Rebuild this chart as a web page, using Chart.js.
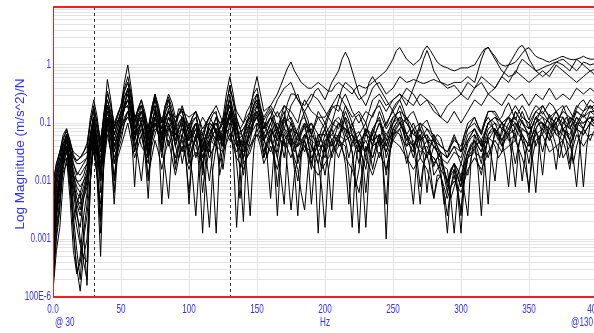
<!DOCTYPE html>
<html>
<head>
<meta charset="utf-8">
<script src="https://cdn.jsdelivr.net/npm/chart.js@4.4.1/dist/chart.umd.min.js"></script>
<style>
  html, body { margin: 0; padding: 0; background: #fff; overflow: hidden; }
  #wrap { position: relative; width: 600px; height: 333px; }
</style>
</head>
<body>
<div id="wrap"><canvas id="frf"></canvas></div>
<script>
// ── FRF overlay: log magnitude vs frequency ─────────────────────
// values are log10 of magnitude in (m/s^2)/N, every 2.5 Hz

const freqs = [
  0, 2.5, 5, 7.5, 10, 12.5, 15, 17.5, 20, 22.5, 25, 27.5, 30, 32.5, 35, 37.5, 40, 42.5, 45, 47.5,
  50, 52.5, 55, 57.5, 60, 62.5, 65, 67.5, 70, 72.5, 75, 77.5, 80, 82.5, 85, 87.5, 90, 92.5, 95, 97.5,
  100, 102.5, 105, 107.5, 110, 112.5, 115, 117.5, 120, 122.5, 125, 127.5, 130, 132.5, 135, 137.5, 140, 142.5, 145, 147.5,
  150, 152.5, 155, 157.5, 160, 162.5, 165, 167.5, 170, 172.5, 175, 177.5, 180, 182.5, 185, 187.5, 190, 192.5, 195, 197.5,
  200, 202.5, 205, 207.5, 210, 212.5, 215, 217.5, 220, 222.5, 225, 227.5, 230, 232.5, 235, 237.5, 240, 242.5, 245, 247.5,
  250, 252.5, 255, 257.5, 260, 262.5, 265, 267.5, 270, 272.5, 275, 277.5, 280, 282.5, 285, 287.5, 290, 292.5, 295, 297.5,
  300, 302.5, 305, 307.5, 310, 312.5, 315, 317.5, 320, 322.5, 325, 327.5, 330, 332.5, 335, 337.5, 340, 342.5, 345, 347.5,
  350, 352.5, 355, 357.5, 360, 362.5, 365, 367.5, 370, 372.5, 375, 377.5, 380, 382.5, 385, 387.5, 390, 392.5, 395, 397.5,
  400
];

// upper traces (rise above the bundle past ~170 Hz)
const logMag01 = [
  -2.9,-2.2,-1.9,-1.4,-1.2,-1.4,-1.7,-1.9,-1.8,-1.7,-1.6,-1.2,-0.9,-1.1,-1.4,-0.9,-0.6,-0.8,-1.2,-1.0,
  -0.8,-0.45,-0.3,-0.6,-1.0,-0.75,-0.7,-0.9,-1.3,-0.8,-0.6,-0.8,-1.1,-0.8,-0.7,-0.85,-1.0,-0.75,-0.8,-1.0,
  -1.2,-0.95,-0.9,-1.1,-1.3,-1.05,-1.0,-0.85,-0.8,-1.3,-1.1,-0.75,-0.6,-0.8,-1.0,-1.4,-1.2,-0.95,-0.9,-0.7,
  -0.6,-0.75,-0.9,-0.8,-0.7,-0.6,-0.5,-0.35,-0.2,-0.05,0.05,-0.1,-0.2,-0.3,-0.35,-0.4,-0.4,-0.35,-0.3,-0.35,
  -0.4,-0.45,-0.45,-0.35,-0.3,-0.35,-0.4,-0.45,-0.5,-0.4,-0.35,-0.38,-0.4,-0.35,-0.3,-0.25,-0.2,-0.15,-0.1,0.0,
  0.1,0.25,0.3,0.2,0.1,0.05,0.0,0.05,0.1,0.25,0.33,0.25,0.15,0.05,0.0,-0.03,-0.05,-0.08,-0.1,-0.08,
  -0.05,-0.05,-0.05,-0.02,0.0,0.1,0.2,0.28,0.3,0.22,0.15,0.05,0.0,-0.02,0.0,0.02,0.05,0.12,0.2,0.27,
  0.3,0.22,0.15,0.12,0.1,0.07,0.05,0.08,0.1,0.13,0.15,0.12,0.1,0.09,0.1,0.12,0.15,0.12,0.1,0.1,
  0.1
];
const logMag02 = [
  -3.3,-2.6,-2.2,-1.6,-1.4,-1.6,-1.9,-2.1,-2.2,-2.0,-1.9,-1.4,-1.0,-1.3,-1.7,-1.2,-0.9,-1.1,-1.4,-1.2,
  -1.0,-0.75,-0.6,-0.85,-1.2,-1.0,-0.9,-1.1,-1.5,-1.1,-0.9,-1.0,-1.2,-1.05,-1.0,-1.2,-1.3,-1.0,-0.9,-1.1,
  -1.3,-1.1,-1.0,-1.2,-1.5,-1.3,-1.2,-1.05,-1.0,-1.15,-1.3,-0.9,-0.7,-0.9,-1.1,-1.3,-1.4,-1.15,-1.0,-0.85,
  -0.8,-0.95,-1.1,-0.9,-0.8,-1.0,-1.2,-1.0,-0.9,-0.65,-0.5,-0.5,-0.6,-0.7,-0.8,-0.7,-0.6,-0.45,-0.4,-0.5,
  -0.6,-0.45,-0.3,-0.2,-0.1,0.1,0.22,0.1,-0.1,-0.3,-0.5,-0.6,-0.7,-0.55,-0.4,-0.33,-0.3,-0.4,-0.5,-0.45,
  -0.4,-0.3,-0.2,-0.25,-0.3,-0.28,-0.25,-0.27,-0.3,-0.32,-0.3,-0.27,-0.25,-0.28,-0.3,-0.32,-0.35,-0.33,-0.3,-0.3,
  -0.3,-0.25,-0.2,-0.25,-0.3,-0.1,0.1,0.25,0.31,0.2,0.1,0.0,-0.1,-0.15,-0.2,-0.18,-0.15,0.0,0.1,0.05,
  0.0,-0.05,-0.1,-0.08,-0.05,-0.02,0.0,0.03,0.05,0.08,0.1,0.05,0.0,-0.05,-0.1,-0.03,0.05,0.03,0.0,0.02,
  0.05
];
const logMag03 = [
  -2.6,-2.0,-1.7,-1.45,-1.3,-1.5,-1.8,-2.0,-2.0,-1.9,-1.7,-1.2,-0.8,-1.1,-1.5,-1.0,-0.7,-0.85,-1.1,-0.95,
  -0.9,-0.65,-0.5,-0.7,-1.0,-0.85,-0.8,-0.95,-1.2,-0.85,-0.7,-0.95,-1.3,-1.0,-0.8,-0.9,-1.1,-1.0,-0.9,-1.0,
  -1.1,-1.2,-1.3,-1.05,-0.9,-1.0,-1.2,-1.35,-1.4,-1.1,-0.9,-0.5,-0.2,-0.5,-0.9,-1.1,-1.3,-1.0,-0.8,-0.6,
  -0.5,-0.75,-1.0,-1.0,-0.9,-0.75,-0.6,-0.5,-0.4,-0.35,-0.3,-0.45,-0.6,-0.65,-0.7,-0.6,-0.5,-0.55,-0.6,-0.7,
  -0.8,-0.9,-1.0,-0.8,-0.6,-0.4,-0.3,-0.35,-0.4,-0.5,-0.6,-0.55,-0.5,-0.3,-0.2,-0.3,-0.4,-0.5,-0.6,-0.7,
  -0.8,-0.7,-0.6,-0.5,-0.4,-0.45,-0.5,-0.6,-0.7,-0.65,-0.6,-0.7,-0.8,-0.85,-0.9,-0.8,-0.7,-0.65,-0.6,-0.55,
  -0.5,-0.4,-0.3,-0.35,-0.4,-0.3,-0.2,-0.25,-0.3,-0.35,-0.4,-0.3,-0.2,-0.1,0.0,0.1,0.2,0.3,0.34,0.25,
  0.1,0.0,-0.1,-0.15,-0.2,-0.15,-0.1,-0.02,0.05,0.03,0.0,-0.05,-0.1,0.0,0.1,0.05,0.0,-0.05,-0.1,-0.08,
  -0.05
];
const logMag04 = [
  -3.0,-2.4,-2.0,-1.7,-1.5,-1.8,-2.1,-2.3,-2.4,-2.2,-2.0,-1.5,-1.2,-1.5,-1.8,-1.3,-0.9,-1.2,-1.5,-1.3,
  -1.1,-0.95,-0.8,-1.0,-1.3,-1.1,-1.0,-1.3,-1.6,-1.2,-1.0,-1.2,-1.4,-1.1,-0.9,-1.1,-1.4,-1.2,-1.1,-1.25,
  -1.4,-1.2,-1.1,-1.3,-1.6,-1.4,-1.3,-1.2,-1.1,-1.25,-1.4,-1.1,-0.9,-1.05,-1.2,-1.35,-1.5,-1.3,-1.1,-1.0,
  -0.9,-1.1,-1.3,-1.15,-1.0,-0.9,-0.8,-0.95,-1.1,-0.9,-0.7,-0.6,-0.5,-0.7,-0.9,-1.05,-1.2,-1.0,-0.8,-0.9,
  -1.0,-0.85,-0.7,-0.6,-0.5,-0.6,-0.7,-0.8,-0.9,-0.85,-0.8,-0.9,-1.0,-0.8,-0.6,-0.55,-0.5,-0.6,-0.7,-0.65,
  -0.6,-0.55,-0.5,-0.6,-0.7,-0.55,-0.4,-0.25,-0.1,0.1,0.25,0.1,-0.1,-0.2,-0.3,-0.35,-0.4,-0.38,-0.35,-0.42,
  -0.5,-0.55,-0.6,-0.5,-0.4,-0.35,-0.3,-0.4,-0.5,-0.45,-0.4,-0.3,-0.2,-0.25,-0.3,-0.2,-0.1,-0.15,-0.2,-0.25,
  -0.3,-0.25,-0.2,-0.15,-0.1,-0.15,-0.2,-0.1,0.0,-0.05,-0.1,-0.15,-0.2,-0.25,-0.3,-0.25,-0.2,-0.15,-0.1,-0.15,
  -0.2
];

// main bundle
const logMag05 = [
  -3.8,-3.0,-2.5,-1.6,-1.2,-1.7,-2.6,-3.2,-3.7,-2.9,-2.4,-1.5,-1.0,-1.4,-2.2,-0.9,-0.25,-0.6,-1.1,-0.85,
  -0.7,-0.3,0.0,-0.4,-0.9,-1.0,-1.2,-1.5,-1.7,-1.1,-0.9,-0.8,-1.0,-0.7,-0.6,-0.9,-1.4,-1.6,-1.2,-1.0,
  -1.1,-0.9,-0.8,-1.2,-1.8,-1.3,-1.0,-1.05,-1.2,-1.9,-1.6,-1.1,-0.9,-0.8,-1.0,-1.5,-1.9,-1.5,-1.3,-1.0,
  -0.9,-1.1,-1.4,-1.6,-1.2,-1.05,-1.0,-1.1,-1.3,-1.2,-1.1,-1.3,-1.7,-1.45,-1.3,-1.1,-1.0,-1.2,-1.5,-1.8,
  -1.4,-1.2,-1.1,-0.95,-0.9,-1.0,-1.2,-1.3,-1.5,-2.1,-1.8,-1.4,-1.2,-1.25,-1.4,-1.15,-1.0,-1.2,-1.6,-1.4,
  -1.2,-1.05,-1.0,-1.1,-1.3,-1.2,-1.1,-1.2,-1.4,-1.5,-1.6,-1.4,-1.3,-1.5,-1.8,-2.4,-2.2,-1.8,-1.7,-1.8,
  -2.0,-1.7,-1.5,-1.35,-1.3,-1.5,-1.7,-1.35,-1.2,-1.1,-1.1,-1.2,-1.4,-1.2,-1.1,-1.05,-1.0,-1.1,-1.2,-1.3,
  -1.4,-1.2,-1.1,-1.0,-1.0,-1.15,-1.3,-1.1,-1.0,-0.9,-0.9,-1.1,-1.3,-1.1,-1.0,-1.05,-1.1,-0.95,-0.9,-0.95,
  -1.0
];
const logMag06 = [
  -2.2,-1.8,-1.6,-1.3,-1.1,-1.3,-1.6,-1.7,-1.7,-1.65,-1.6,-1.2,-0.9,-1.2,-1.5,-1.0,-0.7,-1.0,-1.5,-1.2,
  -1.0,-0.7,-0.5,-0.8,-1.2,-0.95,-0.8,-0.95,-1.2,-0.75,-0.5,-0.8,-1.4,-1.2,-1.1,-1.0,-1.0,-0.85,-0.8,-1.1,
  -1.6,-1.4,-1.3,-1.2,-1.2,-1.35,-1.5,-1.1,-0.9,-1.0,-1.1,-0.85,-0.7,-1.0,-1.4,-1.25,-1.2,-1.1,-1.0,-0.8,
  -0.7,-0.85,-1.0,-1.15,-1.3,-1.45,-1.5,-1.1,-0.9,-0.95,-1.0,-1.15,-1.3,-1.1,-1.0,-1.3,-1.6,-1.5,-1.4,-1.2,
  -1.1,-1.3,-1.6,-1.4,-1.3,-1.1,-0.9,-1.0,-1.1,-1.25,-1.4,-1.45,-1.5,-1.3,-1.2,-1.0,-0.9,-1.1,-1.3,-1.1,
  -0.9,-0.85,-0.8,-1.0,-1.2,-1.4,-1.5,-1.2,-1.0,-1.15,-1.3,-1.35,-1.4,-1.5,-1.6,-1.65,-1.7,-1.6,-1.5,-1.55,
  -1.6,-1.4,-1.2,-1.15,-1.1,-1.25,-1.4,-1.2,-1.0,-0.95,-0.9,-1.0,-1.1,-1.15,-1.2,-1.0,-0.8,-0.9,-1.0,-1.1,
  -1.2,-1.05,-0.9,-0.85,-0.8,-0.9,-1.0,-1.05,-1.1,-1.0,-0.9,-1.0,-1.1,-0.95,-0.8,-0.85,-0.9,-0.8,-0.7,-0.75,
  -0.8
];
const logMag07 = [
  -3.5,-2.5,-2.0,-1.6,-1.4,-2.0,-2.9,-3.5,-3.9,-3.3,-3.0,-2.0,-1.3,-2.0,-3.3,-1.6,-1.0,-1.5,-2.4,-1.5,
  -1.1,-0.9,-0.8,-1.1,-1.5,-1.2,-1.0,-1.5,-2.3,-1.3,-0.9,-1.2,-1.6,-1.2,-1.0,-1.3,-1.7,-1.4,-1.3,-1.6,
  -2.2,-1.5,-1.2,-1.8,-2.9,-1.8,-1.4,-1.2,-1.1,-1.4,-1.8,-1.3,-1.0,-1.5,-2.8,-1.8,-1.4,-1.3,-1.2,-1.1,
  -1.0,-1.2,-1.6,-1.3,-1.1,-1.6,-2.6,-1.6,-1.2,-1.3,-1.4,-1.6,-1.8,-2.2,-2.5,-1.8,-1.4,-1.5,-1.7,-2.1,
  -2.8,-1.8,-1.5,-1.3,-1.2,-1.1,-1.1,-1.3,-1.5,-2.0,-2.9,-1.8,-1.4,-1.5,-1.6,-1.4,-1.2,-1.7,-3.0,-1.6,
  -1.1,-1.0,-1.0,-1.15,-1.3,-1.35,-1.4,-1.8,-2.4,-1.7,-1.5,-1.55,-1.6,-1.7,-1.9,-2.3,-2.9,-2.1,-1.8,-2.2,
  -2.9,-2.0,-1.6,-1.4,-1.3,-1.8,-2.6,-1.6,-1.2,-1.15,-1.1,-1.2,-1.3,-1.6,-2.1,-1.4,-1.0,-1.1,-1.3,-1.6,
  -2.2,-1.4,-1.1,-1.0,-1.0,-1.1,-1.2,-1.4,-1.8,-1.3,-1.1,-1.2,-1.3,-1.6,-2.1,-1.4,-1.1,-0.95,-0.9,-0.95,
  -1.0
];
const logMag08 = [
  -2.5,-1.8,-1.5,-1.2,-1.1,-1.4,-1.9,-2.2,-2.3,-2.1,-1.9,-1.5,-1.2,-1.5,-1.7,-1.2,-0.9,-1.0,-1.2,-1.0,
  -0.8,-0.75,-0.7,-0.9,-1.3,-0.9,-0.7,-1.0,-1.5,-1.2,-1.0,-1.05,-1.1,-0.9,-0.8,-1.0,-1.3,-1.1,-0.9,-1.1,
  -1.3,-1.1,-1.0,-1.2,-1.4,-1.2,-1.1,-1.2,-1.3,-1.25,-1.2,-1.0,-0.9,-1.0,-1.1,-1.3,-1.6,-1.4,-1.2,-0.9,
  -0.7,-0.9,-1.1,-1.0,-0.9,-1.1,-1.3,-1.2,-1.1,-1.2,-1.3,-1.35,-1.4,-1.3,-1.2,-1.15,-1.1,-1.3,-1.5,-1.4,
  -1.3,-1.25,-1.2,-1.1,-1.0,-1.05,-1.1,-1.15,-1.2,-1.35,-1.5,-1.3,-1.1,-1.2,-1.3,-1.25,-1.2,-1.35,-1.5,-1.3,
  -1.1,-1.0,-0.9,-0.95,-1.0,-1.1,-1.2,-1.25,-1.3,-1.25,-1.2,-1.3,-1.4,-1.45,-1.5,-1.55,-1.6,-1.5,-1.4,-1.45,
  -1.5,-1.4,-1.3,-1.2,-1.1,-1.2,-1.3,-1.15,-1.0,-0.95,-0.9,-0.95,-1.0,-1.05,-1.1,-0.95,-0.8,-0.9,-1.0,-1.05,
  -1.1,-0.95,-0.8,-0.85,-0.9,-0.95,-1.0,-0.9,-0.8,-0.95,-1.1,-1.05,-1.0,-0.9,-0.8,-0.85,-0.9,-0.85,-0.8,-0.8,
  -0.8
];
const logMag09 = [
  -3.9,-3.2,-2.8,-2.0,-1.6,-2.3,-3.2,-3.6,-3.4,-3.0,-2.6,-1.9,-1.4,-1.9,-2.6,-1.6,-1.1,-1.3,-1.6,-1.4,
  -1.2,-1.0,-0.9,-0.95,-1.0,-1.2,-1.4,-1.5,-1.6,-1.4,-1.2,-1.0,-0.9,-1.1,-1.4,-1.2,-1.1,-1.3,-1.5,-1.2,
  -1.0,-1.3,-1.6,-1.4,-1.3,-1.6,-2.0,-1.5,-1.2,-1.1,-1.0,-1.15,-1.3,-1.1,-1.0,-1.3,-1.7,-1.6,-1.5,-1.3,
  -1.2,-1.25,-1.3,-1.4,-1.5,-1.3,-1.1,-1.3,-1.6,-1.2,-1.0,-1.2,-1.4,-1.35,-1.3,-1.5,-1.8,-1.4,-1.2,-1.3,
  -1.5,-1.4,-1.3,-1.45,-1.6,-1.4,-1.2,-1.1,-1.0,-1.2,-1.4,-1.6,-1.8,-1.4,-1.1,-1.2,-1.4,-1.3,-1.2,-1.25,
  -1.3,-1.2,-1.1,-1.0,-0.9,-1.1,-1.4,-1.25,-1.1,-1.3,-1.6,-1.4,-1.2,-1.4,-1.6,-1.8,-2.0,-2.3,-2.1,-1.9,
  -1.7,-1.8,-1.9,-1.6,-1.4,-1.35,-1.3,-1.45,-1.6,-1.4,-1.2,-1.1,-1.0,-1.15,-1.3,-1.25,-1.2,-1.0,-0.9,-0.95,
  -1.0,-1.2,-1.4,-1.25,-1.1,-1.0,-0.9,-1.05,-1.2,-1.25,-1.3,-1.1,-0.9,-1.0,-1.1,-1.15,-1.2,-1.1,-1.0,-1.05,
  -1.1
];
const logMag10 = [
  -3.1,-2.4,-1.9,-1.5,-1.3,-1.7,-2.2,-2.6,-2.8,-2.3,-2.0,-1.3,-0.9,-1.4,-2.0,-1.2,-0.8,-1.0,-1.4,-1.2,
  -1.1,-0.7,-0.4,-0.7,-1.1,-0.95,-0.9,-1.0,-1.1,-0.85,-0.7,-1.0,-1.5,-1.1,-0.9,-1.0,-1.1,-0.85,-0.7,-0.9,
  -1.2,-1.0,-0.9,-1.1,-1.4,-1.5,-1.3,-1.05,-0.9,-1.1,-1.4,-0.9,-0.5,-0.8,-1.1,-1.2,-1.1,-1.0,-0.9,-0.7,
  -0.6,-0.9,-1.2,-1.05,-0.9,-1.0,-1.2,-0.95,-0.8,-1.1,-1.4,-1.2,-1.1,-0.95,-0.9,-1.1,-1.4,-1.5,-1.3,-1.1,
  -1.0,-1.15,-1.3,-1.5,-1.4,-1.0,-0.8,-0.95,-1.2,-1.3,-1.2,-1.1,-1.0,-1.2,-1.4,-1.35,-1.3,-1.1,-1.0,-0.9,
  -0.8,-0.9,-1.0,-1.1,-1.2,-1.1,-1.0,-1.15,-1.3,-1.2,-1.1,-1.15,-1.2,-1.3,-1.4,-1.45,-1.5,-1.4,-1.3,-1.35,
  -1.4,-1.2,-1.1,-1.05,-1.0,-1.1,-1.2,-1.0,-0.9,-1.0,-1.2,-1.1,-1.0,-0.95,-0.9,-1.0,-1.1,-0.95,-0.8,-0.95,
  -1.1,-1.05,-1.0,-0.85,-0.7,-0.8,-0.9,-0.95,-1.0,-0.9,-0.8,-0.85,-0.9,-0.95,-1.0,-0.9,-0.8,-0.75,-0.7,-0.8,
  -0.9
];
const logMag11 = [
  -2.9,-2.1,-1.7,-1.6,-1.5,-1.7,-2.0,-2.5,-3.0,-3.4,-3.7,-2.0,-1.2,-1.8,-2.9,-1.4,-0.9,-1.3,-2.0,-1.3,
  -0.9,-0.75,-0.7,-1.1,-2.1,-1.2,-0.9,-1.0,-1.3,-1.0,-0.8,-1.2,-2.4,-1.4,-1.1,-1.15,-1.2,-1.1,-1.0,-1.2,
  -1.5,-1.9,-2.6,-1.7,-1.4,-1.2,-1.1,-1.2,-1.3,-1.2,-1.1,-1.05,-1.0,-1.1,-1.3,-1.8,-2.7,-1.4,-1.0,-0.95,
  -0.9,-1.0,-1.2,-1.25,-1.3,-1.4,-1.6,-1.9,-2.4,-1.4,-1.1,-1.15,-1.2,-1.35,-1.5,-1.3,-1.2,-1.7,-2.9,-1.7,
  -1.3,-1.25,-1.2,-1.25,-1.3,-1.35,-1.4,-1.9,-2.8,-1.7,-1.3,-1.4,-1.5,-1.3,-1.2,-1.4,-1.6,-1.4,-1.3,-1.25,
  -1.2,-1.15,-1.1,-1.3,-1.5,-1.9,-2.4,-1.6,-1.3,-1.25,-1.2,-1.5,-1.9,-1.8,-1.7,-1.75,-1.8,-2.3,-2.9,-2.2,
  -1.9,-2.2,-2.6,-1.6,-1.2,-1.3,-1.4,-1.35,-1.3,-1.6,-2.0,-1.4,-1.1,-1.15,-1.2,-1.6,-2.1,-1.4,-1.1,-1.15,
  -1.2,-1.6,-2.2,-1.4,-1.0,-1.05,-1.1,-1.05,-1.0,-1.3,-1.6,-1.5,-1.4,-1.2,-1.0,-1.4,-2.1,-1.4,-1.0,-0.95,
  -0.9
];
const logMag12 = [
  -2.4,-1.9,-1.6,-1.35,-1.2,-1.45,-1.7,-1.85,-1.9,-1.8,-1.7,-1.3,-1.0,-1.3,-1.6,-1.1,-0.7,-0.95,-1.3,-1.1,
  -0.9,-0.7,-0.6,-0.8,-1.0,-0.8,-0.6,-0.9,-1.4,-1.1,-0.9,-1.05,-1.2,-0.85,-0.6,-0.85,-1.2,-1.15,-1.1,-1.2,
  -1.3,-1.15,-1.0,-1.25,-1.5,-1.2,-1.0,-1.05,-1.1,-1.15,-1.2,-1.0,-0.8,-1.0,-1.3,-1.35,-1.4,-1.2,-1.0,-0.9,
  -0.8,-0.9,-1.0,-1.05,-1.1,-1.2,-1.3,-1.1,-0.9,-1.1,-1.3,-1.35,-1.4,-1.2,-1.0,-1.1,-1.2,-1.3,-1.4,-1.25,
  -1.1,-1.25,-1.4,-1.3,-1.2,-1.05,-0.9,-1.15,-1.4,-1.35,-1.3,-1.25,-1.2,-1.25,-1.3,-1.15,-1.0,-1.1,-1.2,-1.1,
  -1.0,-0.85,-0.7,-0.85,-1.0,-1.1,-1.2,-1.15,-1.1,-1.2,-1.3,-1.3,-1.3,-1.4,-1.5,-1.55,-1.6,-1.5,-1.4,-1.55,
  -1.7,-1.5,-1.3,-1.2,-1.1,-1.25,-1.4,-1.2,-1.0,-0.95,-1.0,-1.05,-1.1,-1.0,-0.9,-0.95,-1.0,-1.05,-1.1,-1.15,
  -1.2,-1.05,-0.9,-0.95,-1.0,-1.05,-1.1,-1.0,-0.9,-0.95,-1.0,-1.05,-1.1,-1.0,-0.9,-0.95,-1.0,-0.95,-0.9,-0.9,
  -0.9
];
const logMag13 = [
  -3.6,-2.8,-2.3,-1.7,-1.3,-1.8,-2.4,-2.8,-3.1,-3.3,-3.4,-1.9,-1.1,-1.4,-1.8,-1.2,-0.8,-1.1,-1.7,-1.5,
  -1.3,-1.0,-0.8,-1.0,-1.4,-1.25,-1.1,-1.3,-1.5,-1.3,-1.1,-1.15,-1.2,-1.1,-1.2,-1.4,-1.6,-1.3,-1.0,-1.3,
  -1.7,-1.4,-1.2,-1.1,-1.2,-1.4,-1.6,-1.45,-1.3,-1.1,-1.0,-1.1,-1.2,-1.35,-1.5,-1.4,-1.3,-1.35,-1.4,-1.25,
  -1.1,-1.3,-1.5,-1.35,-1.2,-1.15,-1.1,-1.2,-1.3,-1.45,-1.6,-1.4,-1.2,-1.3,-1.4,-1.45,-1.5,-1.4,-1.3,-1.45,
  -1.6,-1.3,-1.1,-1.25,-1.4,-1.35,-1.3,-1.25,-1.2,-1.45,-1.7,-1.3,-1.1,-1.4,-1.8,-1.5,-1.3,-1.4,-1.5,-1.3,
  -1.1,-1.15,-1.2,-1.3,-1.4,-1.35,-1.3,-1.4,-1.5,-1.45,-1.4,-1.55,-1.7,-1.6,-1.5,-1.8,-2.1,-1.9,-1.8,-1.95,
  -2.1,-1.8,-1.6,-1.55,-1.5,-1.55,-1.6,-1.45,-1.3,-1.2,-1.1,-1.25,-1.4,-1.3,-1.2,-1.15,-1.1,-1.2,-1.3,-1.4,
  -1.5,-1.35,-1.2,-1.15,-1.1,-1.2,-1.3,-1.2,-1.1,-1.15,-1.2,-1.3,-1.4,-1.25,-1.1,-1.15,-1.2,-1.1,-1.0,-1.05,
  -1.1
];
const logMag14 = [
  -2.0,-1.7,-1.5,-1.35,-1.3,-1.45,-1.6,-1.65,-1.6,-1.55,-1.5,-1.0,-0.7,-1.0,-1.3,-0.9,-0.6,-0.85,-1.2,-1.0,
  -0.8,-0.55,-0.4,-0.7,-1.1,-0.9,-0.8,-0.95,-1.2,-0.85,-0.6,-0.85,-1.2,-0.95,-0.8,-0.85,-0.9,-0.85,-0.9,-1.0,
  -1.1,-1.15,-1.2,-1.25,-1.3,-1.05,-0.9,-1.0,-1.2,-1.1,-1.0,-0.85,-0.7,-0.9,-1.2,-1.15,-1.1,-1.0,-0.9,-0.7,
  -0.5,-0.8,-1.1,-1.0,-0.9,-1.0,-1.1,-1.05,-1.0,-0.95,-0.9,-1.05,-1.2,-1.15,-1.1,-1.05,-1.0,-1.1,-1.2,-1.2,
  -1.2,-1.1,-1.0,-1.05,-1.1,-0.9,-0.7,-0.85,-1.0,-1.2,-1.4,-1.25,-1.1,-1.15,-1.2,-1.0,-0.8,-0.95,-1.1,-1.0,
  -0.9,-0.85,-0.8,-0.85,-0.9,-1.0,-1.1,-1.05,-1.0,-1.05,-1.1,-1.2,-1.3,-1.35,-1.4,-1.45,-1.5,-1.35,-1.2,-1.35,
  -1.5,-1.3,-1.1,-1.0,-0.9,-1.05,-1.2,-1.0,-0.8,-0.8,-0.8,-0.9,-1.0,-0.95,-0.9,-0.8,-0.7,-0.8,-0.9,-0.95,
  -1.0,-0.9,-0.8,-0.75,-0.7,-0.8,-0.9,-0.85,-0.8,-0.75,-0.7,-0.85,-1.0,-0.85,-0.7,-0.75,-0.8,-0.7,-0.6,-0.65,
  -0.7
];
const logMag15 = [
  -3.3,-2.6,-2.1,-1.85,-1.7,-1.9,-2.2,-2.4,-2.6,-2.3,-2.1,-1.7,-1.5,-1.9,-2.4,-1.7,-1.2,-1.5,-1.9,-1.6,
  -1.4,-1.2,-1.0,-1.3,-1.6,-1.4,-1.2,-1.5,-1.9,-1.6,-1.3,-1.5,-1.8,-1.5,-1.3,-1.6,-1.9,-1.6,-1.4,-1.6,
  -1.8,-1.6,-1.5,-1.6,-1.7,-2.1,-2.8,-1.8,-1.4,-1.45,-1.5,-1.35,-1.2,-1.4,-1.6,-1.7,-1.8,-1.6,-1.4,-1.3,
  -1.2,-1.4,-1.7,-1.55,-1.4,-1.6,-1.8,-1.5,-1.3,-1.8,-2.5,-1.9,-1.6,-1.5,-1.4,-1.55,-1.7,-1.8,-1.9,-1.8,
  -1.7,-1.6,-1.5,-1.4,-1.3,-1.45,-1.6,-1.7,-1.8,-2.0,-2.2,-1.8,-1.6,-1.75,-1.9,-1.7,-1.5,-1.65,-1.8,-1.5,
  -1.3,-1.35,-1.4,-1.5,-1.6,-1.7,-1.8,-1.7,-1.6,-1.7,-1.8,-2.0,-2.3,-2.0,-1.9,-2.1,-2.3,-2.1,-2.0,-2.1,
  -2.2,-2.0,-1.8,-1.7,-1.6,-1.7,-1.8,-1.65,-1.5,-1.4,-1.3,-1.4,-1.5,-1.45,-1.4,-1.35,-1.3,-1.45,-1.6,-1.8,
  -2.1,-1.6,-1.3,-1.25,-1.2,-1.35,-1.5,-1.45,-1.4,-1.35,-1.3,-1.5,-1.8,-1.4,-1.2,-1.3,-1.4,-1.3,-1.2,-1.2,
  -1.2
];
const logMag16 = [
  -2.7,-2.1,-1.8,-1.55,-1.4,-1.6,-1.9,-2.0,-2.1,-2.0,-1.8,-1.4,-1.1,-1.5,-1.9,-1.3,-0.9,-1.1,-1.4,-1.2,
  -1.0,-0.75,-0.6,-0.85,-1.2,-1.1,-1.0,-1.2,-1.4,-1.05,-0.8,-1.0,-1.3,-1.1,-0.9,-1.0,-1.2,-1.25,-1.2,-1.35,
  -1.5,-1.25,-1.1,-1.3,-1.6,-1.4,-1.2,-1.1,-1.0,-1.2,-1.4,-1.05,-0.8,-1.0,-1.3,-1.45,-1.6,-1.3,-1.1,-0.95,
  -0.8,-1.0,-1.3,-1.2,-1.1,-1.25,-1.4,-1.2,-1.1,-1.15,-1.2,-1.4,-1.6,-1.35,-1.2,-1.3,-1.4,-1.55,-1.7,-1.4,
  -1.2,-1.3,-1.4,-1.2,-1.0,-1.05,-1.1,-1.2,-1.3,-1.4,-1.5,-1.4,-1.3,-1.45,-1.6,-1.4,-1.2,-1.3,-1.4,-1.2,
  -1.0,-0.95,-0.9,-1.05,-1.2,-1.3,-1.4,-1.3,-1.2,-1.35,-1.5,-1.55,-1.6,-1.7,-1.8,-1.9,-2.0,-1.85,-1.7,-1.8,
  -1.9,-1.7,-1.5,-1.4,-1.3,-1.4,-1.5,-1.3,-1.1,-1.05,-1.0,-1.15,-1.3,-1.15,-1.0,-0.95,-0.9,-1.05,-1.2,-1.3,
  -1.4,-1.2,-1.0,-0.95,-0.9,-1.05,-1.2,-1.05,-0.9,-1.0,-1.1,-1.15,-1.2,-1.05,-0.9,-1.0,-1.1,-0.95,-0.8,-0.85,
  -0.9
];
const logMag17 = [
  -2.3,-1.9,-1.7,-1.4,-1.2,-1.35,-1.5,-1.55,-1.6,-1.5,-1.4,-0.9,-0.6,-0.9,-1.4,-0.8,-0.5,-0.7,-1.0,-0.85,
  -0.7,-0.45,-0.3,-0.55,-0.9,-0.8,-0.7,-0.85,-1.1,-0.75,-0.5,-0.7,-1.0,-0.7,-0.5,-0.65,-0.9,-0.85,-0.8,-0.85,
  -0.9,-0.85,-0.8,-0.95,-1.1,-1.0,-0.9,-0.8,-0.7,-0.85,-1.0,-0.65,-0.4,-0.6,-0.8,-0.9,-1.0,-0.9,-0.8,-0.45,
  -0.2,-0.5,-0.8,-0.75,-0.7,-0.8,-0.9,-0.8,-0.7,-0.75,-0.8,-0.9,-1.0,-0.75,-0.6,-0.7,-0.8,-0.85,-0.9,-0.9,
  -0.9,-0.8,-0.7,-0.75,-0.8,-0.6,-0.5,-0.65,-0.8,-0.9,-1.0,-0.9,-0.8,-0.85,-0.9,-0.75,-0.6,-0.7,-0.8,-0.7,
  -0.6,-0.55,-0.5,-0.55,-0.6,-0.65,-0.7,-0.6,-0.5,-0.55,-0.6,-0.65,-0.7,-0.8,-0.9,-0.95,-1.0,-0.9,-0.8,-0.9,
  -1.0,-0.9,-0.8,-0.7,-0.6,-0.65,-0.7,-0.6,-0.5,-0.55,-0.6,-0.65,-0.7,-0.6,-0.5,-0.55,-0.6,-0.55,-0.5,-0.6,
  -0.7,-0.6,-0.5,-0.55,-0.6,-0.5,-0.4,-0.5,-0.6,-0.55,-0.5,-0.55,-0.6,-0.5,-0.4,-0.45,-0.5,-0.45,-0.4,-0.45,
  -0.5
];
const logMag18 = [
  -3.0,-2.3,-1.9,-1.7,-1.6,-2.1,-2.7,-2.4,-2.2,-2.9,-3.8,-2.0,-1.3,-1.6,-2.0,-1.4,-1.0,-1.5,-2.2,-1.4,
  -1.0,-0.95,-0.9,-1.05,-1.3,-1.6,-2.0,-1.4,-1.2,-1.1,-1.0,-1.2,-1.4,-1.8,-2.3,-1.4,-1.0,-1.3,-1.7,-1.4,
  -1.2,-1.3,-1.4,-1.55,-1.7,-1.4,-1.3,-1.9,-2.9,-1.6,-1.2,-1.15,-1.1,-1.25,-1.4,-1.35,-1.3,-1.8,-2.6,-1.5,
  -1.0,-1.1,-1.2,-1.6,-2.3,-1.5,-1.2,-1.3,-1.4,-1.35,-1.3,-1.8,-2.6,-1.6,-1.2,-1.25,-1.3,-1.35,-1.4,-1.4,
  -1.4,-1.8,-2.5,-1.5,-1.2,-1.25,-1.3,-1.25,-1.2,-1.3,-1.4,-1.9,-2.8,-1.8,-1.4,-1.35,-1.3,-1.7,-2.4,-1.5,
  -1.2,-1.1,-1.0,-1.1,-1.2,-1.4,-1.6,-1.35,-1.2,-1.6,-2.2,-1.6,-1.4,-1.5,-1.6,-1.8,-2.0,-1.8,-1.7,-2.1,
  -2.6,-1.8,-1.5,-1.45,-1.4,-1.35,-1.3,-1.7,-2.4,-1.5,-1.1,-1.2,-1.3,-1.2,-1.1,-1.15,-1.2,-1.5,-2.0,-1.5,
  -1.3,-1.2,-1.1,-1.4,-1.9,-1.3,-1.0,-1.1,-1.2,-1.15,-1.1,-1.3,-1.7,-1.3,-1.0,-1.0,-1.0,-0.95,-0.9,-1.0,
  -1.1
];
const logMag19 = [
  -3.4,-2.6,-2.0,-1.5,-1.25,-1.5,-2.0,-2.3,-2.5,-2.2,-1.9,-1.3,-0.95,-1.3,-1.9,-1.2,-0.7,-0.9,-1.3,-1.1,
  -0.85,-0.55,-0.45,-0.8,-1.3,-1.0,-0.8,-1.1,-1.6,-1.0,-0.75,-0.95,-1.3,-0.95,-0.75,-1.0,-1.4,-1.1,-0.95,-1.2,
  -1.5,-1.2,-1.0,-1.3,-1.9,-1.3,-1.1,-1.0,-1.15,-1.4,-1.2,-0.85,-0.6,-0.9,-1.3,-1.6,-1.3,-1.05,-0.95,-0.75,
  -0.65,-0.9,-1.3,-1.15,-1.0,-1.2,-1.6,-1.25,-0.95,-1.05,-1.25,-1.5,-1.35,-1.15,-1.05,-1.3,-1.7,-1.4,-1.2,-1.3,
  -1.5,-1.2,-1.05,-0.95,-1.0,-1.1,-1.3,-1.6,-1.35,-1.2,-1.15,-1.3,-1.6,-1.3,-1.1,-1.0,-0.95,-1.15,-1.4,-1.2,
  -1.0,-0.9,-0.95,-1.15,-1.4,-1.25,-1.1,-1.3,-1.6,-1.4,-1.3,-1.5,-1.75,-1.6,-1.65,-1.9,-2.2,-1.85,-1.7,-1.9,
  -2.1,-1.6,-1.35,-1.25,-1.2,-1.4,-1.5,-1.2,-1.0,-1.05,-1.15,-1.3,-1.2,-1.0,-0.9,-1.1,-1.3,-1.1,-0.95,-1.1,
  -1.3,-1.05,-0.9,-1.0,-1.2,-1.0,-0.85,-0.95,-1.1,-1.2,-1.0,-0.9,-1.05,-1.25,-1.1,-0.95,-0.85,-0.95,-1.0,-0.9,
  -0.95
];
const logMag20 = [
  -3.7,-2.9,-2.4,-1.8,-1.45,-1.9,-2.8,-3.6,-3.3,-2.6,-2.2,-1.6,-1.15,-1.6,-2.7,-1.5,-0.95,-1.2,-1.7,-1.35,
  -1.0,-0.75,-0.7,-1.0,-1.5,-1.2,-0.95,-1.3,-2.0,-1.3,-1.0,-1.15,-1.5,-1.2,-1.05,-1.3,-1.8,-1.4,-1.2,-1.5,
  -2.4,-1.5,-1.2,-1.5,-2.2,-1.6,-1.3,-1.25,-1.4,-1.7,-1.45,-1.1,-0.85,-1.2,-1.7,-2.3,-1.6,-1.3,-1.2,-1.0,
  -0.85,-1.1,-1.6,-1.4,-1.2,-1.5,-2.1,-1.5,-1.15,-1.25,-1.4,-1.7,-2.0,-1.5,-1.3,-1.6,-2.4,-1.7,-1.5,-1.6,
  -1.9,-1.5,-1.3,-1.2,-1.25,-1.4,-1.7,-2.4,-1.7,-1.45,-1.35,-1.6,-2.2,-1.6,-1.35,-1.25,-1.2,-1.45,-1.9,-1.5,
  -1.25,-1.15,-1.2,-1.4,-1.7,-1.5,-1.35,-1.6,-2.1,-1.7,-1.55,-1.8,-2.3,-1.9,-1.9,-2.2,-2.6,-2.1,-1.9,-2.2,
  -2.5,-1.9,-1.6,-1.5,-1.45,-1.7,-1.9,-1.5,-1.25,-1.3,-1.4,-1.6,-1.5,-1.25,-1.15,-1.4,-1.7,-1.35,-1.2,-1.4,
  -1.7,-1.3,-1.15,-1.25,-1.5,-1.25,-1.1,-1.2,-1.4,-1.6,-1.3,-1.15,-1.3,-1.7,-1.4,-1.2,-1.1,-1.2,-1.3,-1.15,
  -1.2
];
const logMag21 = [
  -2.1,-1.7,-1.5,-1.25,-1.15,-1.3,-1.55,-1.65,-1.6,-1.5,-1.35,-1.0,-0.75,-1.0,-1.3,-0.85,-0.45,-0.7,-1.05,-0.9,
  -0.7,-0.4,-0.2,-0.5,-0.95,-0.75,-0.6,-0.8,-1.1,-0.8,-0.55,-0.75,-1.0,-0.75,-0.55,-0.75,-1.0,-0.85,-0.75,-0.9,
  -1.05,-0.9,-0.8,-0.95,-1.2,-1.0,-0.9,-0.8,-0.85,-1.0,-0.95,-0.7,-0.35,-0.65,-0.95,-1.1,-1.0,-0.8,-0.7,-0.5,
  -0.4,-0.7,-0.95,-0.85,-0.75,-0.9,-1.1,-0.9,-0.7,-0.8,-0.95,-1.1,-1.2,-0.95,-0.8,-0.95,-1.2,-1.05,-0.9,-1.0,
  -1.1,-0.9,-0.75,-0.7,-0.7,-0.8,-1.0,-1.2,-1.05,-0.9,-0.85,-1.0,-1.2,-1.0,-0.85,-0.75,-0.7,-0.85,-1.05,-0.9,
  -0.75,-0.65,-0.6,-0.75,-0.95,-0.85,-0.8,-0.95,-1.1,-1.0,-0.95,-1.1,-1.3,-1.2,-1.25,-1.45,-1.6,-1.4,-1.25,-1.35,
  -1.5,-1.2,-1.0,-0.95,-0.9,-1.05,-1.15,-0.95,-0.8,-0.8,-0.85,-0.95,-0.9,-0.75,-0.65,-0.8,-0.95,-0.8,-0.7,-0.8,
  -0.95,-0.8,-0.7,-0.75,-0.85,-0.75,-0.65,-0.7,-0.8,-0.9,-0.75,-0.7,-0.8,-0.9,-0.75,-0.65,-0.6,-0.7,-0.75,-0.7,
  -0.7
];

const series = [
  logMag01, logMag02, logMag03, logMag04, logMag05, logMag06, logMag07,
  logMag08, logMag09, logMag10, logMag11, logMag12, logMag13, logMag14,
  logMag15, logMag16, logMag17, logMag18, logMag19, logMag20, logMag21
];

// axis labels / markers
const xTickValues = [0, 50, 100, 150, 200, 250, 300, 350, 400];
const xTickLabels = ["0.0", "50", "100", "150", "200", "250", "300", "350", "400"];
const yTickValues = [1, 0.1, 0.01, 0.001, 0.0001];
const yTickLabels = ["1", "0.1", "0.01", "0.001", "100E-6"];
const cursorFreqs = [30, 130];
const cursorLabels = ["@ 30", "@130"];

const BLUE = "#2f2fff";
const RED = "#f02020";
const GRID = "#e3e3e3";

// log grid at 1..9 x 10^n
const yGrid = [];
for (let e = -4; e <= 0; e++) {
  for (let k = 1; k <= 9; k++) yGrid.push(k * Math.pow(10, e));
}
yGrid.push(10);

function narrowText(ctx, txt, x, y, align) {
  ctx.save();
  ctx.translate(x, y);
  ctx.scale(0.68, 1);
  ctx.textAlign = align;
  ctx.textBaseline = "middle";
  ctx.fillText(txt, 0, 0);
  ctx.restore();
}

const overlay = {
  id: "overlay",
  beforeDatasetsDraw(chart) {
    const { ctx, chartArea: a, scales: { x } } = chart;
    ctx.save();
    ctx.strokeStyle = "#333";
    ctx.lineWidth = 1;
    ctx.setLineDash([3, 3]);
    cursorFreqs.forEach(f => {
      const px = Math.round(x.getPixelForValue(f)) + 0.5;
      ctx.beginPath();
      ctx.moveTo(px, a.top);
      ctx.lineTo(px, a.bottom);
      ctx.stroke();
    });
    ctx.restore();
  },
  afterDraw(chart) {
    const { ctx, chartArea: a, scales: { x, y } } = chart;
    ctx.save();
    // red frame
    ctx.strokeStyle = RED;
    ctx.lineWidth = 2;
    ctx.beginPath();
    ctx.moveTo(a.left, a.top); ctx.lineTo(a.right, a.top);
    ctx.moveTo(a.left, a.bottom); ctx.lineTo(a.right, a.bottom);
    ctx.stroke();
    ctx.lineWidth = 1;
    ctx.beginPath();
    ctx.moveTo(a.left + 0.5, a.top); ctx.lineTo(a.left + 0.5, a.bottom);
    ctx.stroke();

    ctx.fillStyle = BLUE;
    ctx.font = "12px 'Liberation Sans', Arial, sans-serif";
    yTickValues.forEach((v, i) => {
      narrowText(ctx, yTickLabels[i], a.left - 2, y.getPixelForValue(v), "right");
    });
    xTickValues.forEach((v, i) => {
      narrowText(ctx, xTickLabels[i], Math.min(x.getPixelForValue(v), 594), a.bottom + 13, "center");
    });
    narrowText(ctx, cursorLabels[0], a.left + 2, a.bottom + 26, "left");
    narrowText(ctx, cursorLabels[1], 593, a.bottom + 26, "right");
    narrowText(ctx, "Hz", x.getPixelForValue(200), a.bottom + 26, "center");

    // y title
    ctx.translate(20.5, 154);
    ctx.rotate(-Math.PI / 2);
    ctx.font = "13.5px 'Liberation Sans', Arial, sans-serif";
    ctx.textAlign = "center";
    ctx.textBaseline = "middle";
    ctx.fillText("Log Magnitude (m/s^2)/N", 0, 0);
    ctx.restore();
  }
};

new Chart(document.getElementById("frf"), {
  type: "line",
  data: {
    datasets: series.map(s => ({
      data: s.map((v, i) => ({ x: freqs[i], y: Math.pow(10, v) })),
      borderColor: "#000",
      borderWidth: 1,
      pointRadius: 0,
      tension: 0,
      fill: false,
    })),
  },
  options: {
    responsive: true,
    maintainAspectRatio: false,
    animation: false,
    events: [],
    layout: { padding: { left: 53, right: 3, top: 7, bottom: 36 } },
    plugins: { legend: { display: false }, tooltip: { enabled: false } },
    scales: {
      x: {
        type: "linear",
        min: 0,
        max: 400,
        afterBuildTicks: s => { s.ticks = xTickValues.map(v => ({ value: v })); },
        ticks: { display: false },
        grid: { color: GRID, drawTicks: false },
        border: { display: false },
      },
      y: {
        type: "logarithmic",
        min: 0.0001,
        max: 10,
        afterBuildTicks: s => { s.ticks = yGrid.map(v => ({ value: v })); },
        ticks: { display: false },
        grid: { color: GRID, drawTicks: false },
        border: { display: false },
      },
    },
  },
  plugins: [overlay],
});
</script>
</body>
</html>
